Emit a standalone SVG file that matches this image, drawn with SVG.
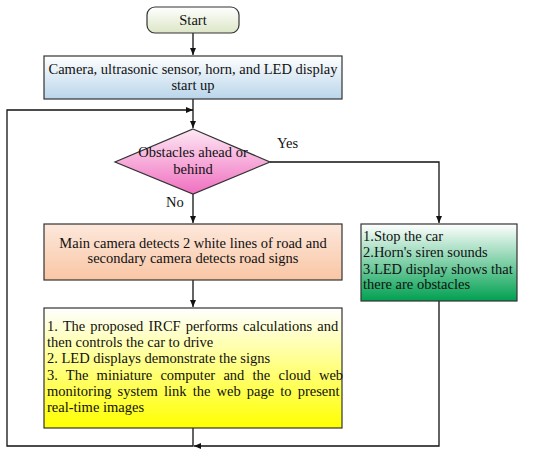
<svg xmlns="http://www.w3.org/2000/svg" width="550" height="454" viewBox="0 0 550 454">
<style>
.box{stroke:#333;stroke-width:1.2}
.t{font-family:"Liberation Serif","DejaVu Serif",serif;font-size:14.5px;fill:#111}
.c{text-anchor:middle}
.ln{fill:none;stroke:#111;stroke-width:1.3}
</style>
<defs>
<marker id="ah" markerWidth="8" markerHeight="8" refX="7" refY="4" orient="auto" markerUnits="userSpaceOnUse">
<path d="M0,1 L7,4 L0,7 Z" fill="#111"/>
</marker>
<linearGradient id="gStart" x1="0" y1="0" x2="0" y2="1"><stop offset="0" stop-color="#ffffff"/><stop offset="1" stop-color="#dce6c6"/></linearGradient>
<linearGradient id="gBlue" x1="0" y1="0" x2="0" y2="1"><stop offset="0" stop-color="#ffffff"/><stop offset="1" stop-color="#b9d5ea"/></linearGradient>
<linearGradient id="gPink" x1="0" y1="0" x2="0" y2="1"><stop offset="0" stop-color="#fde8f4"/><stop offset="1" stop-color="#f06fc0"/></linearGradient>
<linearGradient id="gOrange" x1="0" y1="0" x2="0" y2="1"><stop offset="0" stop-color="#fde8dc"/><stop offset="1" stop-color="#f9c6a4"/></linearGradient>
<linearGradient id="gGreen" x1="0" y1="0" x2="0" y2="1"><stop offset="0" stop-color="#ffffff"/><stop offset="1" stop-color="#00a050"/></linearGradient>
<linearGradient id="gYellow" x1="0" y1="0" x2="0" y2="1"><stop offset="0" stop-color="#ffffff"/><stop offset="1" stop-color="#ffff00"/></linearGradient>
</defs>
<rect width="550" height="454" fill="#fff"/>
<g id="connectors">
<line class="ln" x1="193" y1="33" x2="193" y2="55" marker-end="url(#ah)"/>
<line class="ln" x1="193" y1="99" x2="193" y2="128" marker-end="url(#ah)"/>
<polyline class="ln" points="193,428 193,446 7,446 7,110 193,110" marker-end="url(#ah)"/>
<line class="ln" x1="193" y1="194" x2="193" y2="223" marker-end="url(#ah)"/>
<polyline class="ln" points="270,162 439,162 439,223" marker-end="url(#ah)"/>
<line class="ln" x1="193" y1="280" x2="193" y2="307" marker-end="url(#ah)"/>
<polyline class="ln" points="439,301 439,446 194,446" marker-end="url(#ah)"/>
<text class="t" x="277" y="148">Yes</text>
<text class="t" x="166" y="207">No</text>
</g>
<g id="start">
<rect class="box" x="147" y="7" width="92" height="26" rx="8" fill="url(#gStart)"/>
<text class="t c" x="193" y="25">Start</text>
</g>
<g id="init">
<rect class="box" x="44" y="56" width="298" height="43" fill="url(#gBlue)"/>
<text class="t c" x="193" y="74">Camera, ultrasonic sensor, horn, and LED display</text>
<text class="t c" x="193" y="90">start up</text>
</g>
<g id="decision">
<polygon class="box" points="193,129 270,162 193,194 115,162" fill="url(#gPink)"/>
<text class="t c" x="193" y="157">Obstacles ahead or</text>
<text class="t c" x="193" y="174">behind</text>
</g>
<g id="detect">
<rect class="box" x="44" y="224" width="298" height="56" fill="url(#gOrange)"/>
<text class="t c" x="193" y="248">Main camera detects 2 white lines of road and</text>
<text class="t c" x="193" y="263">secondary camera detects road signs</text>
</g>
<g id="stop">
<rect class="box" x="361" y="224" width="156" height="77" fill="url(#gGreen)"/>
<text class="t" x="363" y="241">1.Stop the car</text>
<text class="t" x="363" y="257">2.Horn's siren sounds</text>
<text class="t" x="363" y="274">3.LED display shows that</text>
<text class="t" x="363" y="289">there are obstacles</text>
</g>
<g id="drive">
<rect class="box" x="44" y="308" width="298" height="120" fill="url(#gYellow)"/>
<text class="t" x="47" y="331" word-spacing="1.4">1. The proposed IRCF performs calculations and</text>
<text class="t" x="47" y="347">then controls the car to drive</text>
<text class="t" x="47" y="363">2. LED displays demonstrate the signs</text>
<text class="t" x="47" y="380" word-spacing="4.6">3. The miniature computer and the cloud web</text>
<text class="t" x="47" y="396" word-spacing="2.5">monitoring system link the web page to present</text>
<text class="t" x="47" y="412">real-time images</text>
</g>
</svg>
